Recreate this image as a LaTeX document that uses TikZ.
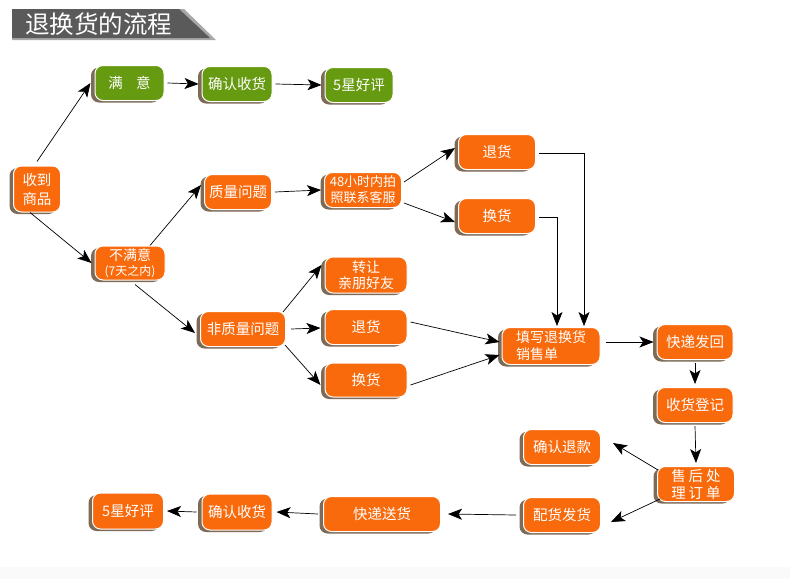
\documentclass[tikz,border=0pt]{standalone}
\usepackage{fontspec}
\newfontfamily\cjk{Noto Sans CJK SC}
\usetikzlibrary{arrows.meta,shadows}
\definecolor{ora}{HTML}{F86A0C}
\definecolor{grn}{HTML}{669A10}
\definecolor{shd}{HTML}{7D6B58}
\definecolor{tdark}{HTML}{5A5A5A}
\definecolor{tlight}{HTML}{A8A8A8}
\tikzset{
  box/.style={rounded corners=8pt, fill=ora, draw=white, line width=1pt, text=white,
    font=\cjk\fontsize{14.5}{19}\selectfont, inner sep=0pt, align=center,
    minimum height=35pt,
    general shadow={fill=shd, shadow xshift=-4pt, shadow yshift=-2pt}},
  gbox/.style={box, fill=grn},
  arr/.style={-{Stealth[length=14pt,width=11pt,inset=3.5pt]}, line width=0.7pt, black},
}
\begin{document}
\begin{tikzpicture}[x=1pt,y=-1pt]
\useasboundingbox (0,0) rectangle (790,579);
\fill[white] (0,0) rectangle (790,579);
\fill[gray!4] (0,567) rectangle (790,579);
% title
\fill[tlight] (12,9) -- (184,9) -- (216,40) -- (12,40) -- cycle;
\fill[tdark] (12,9) -- (179,9) -- (210,38) -- (12,38) -- cycle;
\node[anchor=west, text=white, font=\cjk\fontsize{24.5}{24.5}\selectfont, inner sep=0pt] (title) at (25,24) {退换货的流程};
% nodes
\node[box, minimum width=47pt, minimum height=46pt] (get) at (37,189) {收到\\商品};
\node[gbox, minimum width=69pt] (my) at (129.5,83) {满\hspace{0.9em}意};
\node[gbox, minimum width=70pt] (qs1) at (237,84) {确认收货};
\node[gbox, minimum width=68pt] (hp1) at (359,85) {5星好评};
\node[box, minimum width=70pt, minimum height=34pt, font=\cjk\fontsize{14}{15}\selectfont] (bmy) at (130,263) {不满意\\{\fontsize{12}{13}\selectfont (7天之内)}};
\node[box, minimum width=67pt] (zl) at (238,192) {质量问题};
\node[box, minimum width=77pt, font=\cjk\fontsize{13}{16}\selectfont] (h48) at (363,190) {48小时内拍\\照联系客服};
\node[box, minimum width=77pt] (th1) at (497,152) {退货};
\node[box, minimum width=77pt] (hh1) at (497,216) {换货};
\node[box, minimum width=85pt] (fzl) at (243,329) {非质量问题};
\node[box, minimum width=82pt, minimum height=36pt, font=\cjk\fontsize{14}{16}\selectfont] (zr) at (366,275) {转让\\亲朋好友};
\node[box, minimum width=82pt] (th2) at (366,327) {退货};
\node[box, minimum width=82pt, minimum height=34pt] (hh2) at (366,380) {换货};
\node[box, minimum width=98pt, minimum height=37pt, align=left, font=\cjk\fontsize{14}{17}\selectfont] (tx) at (551,346) {填写退换货\\销售单\phantom{退换}};
\node[box, minimum width=76pt] (kdfh) at (695,342) {快递发回};
\node[box, minimum width=76pt] (shdj) at (695,405) {收货登记};
\node[box, minimum width=77pt, font=\cjk\fontsize{14.5}{17}\selectfont] (sh) at (696,484) {售\hspace{3pt}后\hspace{3pt}处\\理\hspace{3pt}订\hspace{3pt}单};
\node[box, minimum width=77pt] (qrtk) at (562,447) {确认退款};
\node[box, minimum width=77pt] (phfh) at (562,515) {配货发货};
\node[box, minimum width=117pt] (kdsh) at (382,514) {快递送货};
\node[box, minimum width=70pt, minimum height=36pt] (qs2) at (237,512) {确认收货};
\node[box, minimum width=71pt, minimum height=36pt] (hp2) at (128,511) {5星好评};
% connectors
\draw[arr] ([yshift=4pt]get.north) -- ([xshift=-4pt]my.west);
\draw[arr] ([xshift=-7pt]get.south) -- ([xshift=-3pt]bmy.west);
\draw[arr] ([xshift=3pt]my.east) -- ([xshift=-3pt]qs1.west);
\draw[arr] ([xshift=3pt]qs1.east) -- ([xshift=-3pt]hp1.west);
\draw[arr] ([xshift=20pt]bmy.north) -- ([xshift=-3pt,yshift=7pt]zl.west);
\draw[arr] ([xshift=5pt,yshift=-4pt]bmy.south) -- ([xshift=-5pt,yshift=-4pt]fzl.west);
\draw[arr] ([xshift=3pt]zl.east) -- ([xshift=-3pt]h48.west);
\draw[arr] ([xshift=2pt,yshift=8pt]h48.east) -- ([xshift=-3pt,yshift=4pt]th1.west);
\draw[arr] ([xshift=2pt,yshift=-13pt]h48.east) -- ([xshift=-3pt,yshift=-6pt]hh1.west);
\draw[arr] ([xshift=3pt,yshift=-1pt]th1.east) -| ([xshift=33pt,yshift=1pt]tx.north);
\draw[arr] ([xshift=3pt,yshift=-1pt]hh1.east) -| ([xshift=6pt,yshift=1pt]tx.north);
\draw[arr] ([xshift=-3pt,yshift=-1pt]fzl.north east) -- ([xshift=-3pt,yshift=10pt]zr.west);
\draw[arr] ([xshift=5pt]fzl.east) -- ([xshift=-4pt,yshift=-1pt]th2.west);
\draw[arr] ([xshift=-1pt,yshift=2pt]fzl.south east) -- ([xshift=-4pt,yshift=-5pt]hh2.west);
\draw[arr] ([xshift=3pt,yshift=5pt]th2.east) -- ([xshift=-2pt,yshift=4pt]tx.west);
\draw[arr] ([xshift=3pt,yshift=-5pt]hh2.east) -- ([xshift=-2pt,yshift=-9pt]tx.west);
\draw[arr] ([xshift=5pt,yshift=4pt]tx.east) -- ([xshift=-3pt]kdfh.west);
\draw[arr] ([yshift=-3pt]kdfh.south) -- ([yshift=3pt]shdj.north);
\draw[arr] ([yshift=-3pt]shdj.south) -- ([yshift=3pt]sh.north);
\draw[arr] ([xshift=1pt,yshift=-4pt]sh.north west) -- ([xshift=12pt,yshift=4pt]qrtk.east);
\draw[arr] ([xshift=3pt,yshift=3pt]sh.south west) -- ([xshift=10pt,yshift=-7pt]phfh.east);
\draw[arr] ([xshift=-7pt]phfh.west) -- ([xshift=7pt]kdsh.east);
\draw[arr] ([xshift=-5pt]kdsh.west) -- ([xshift=4pt]qs2.east);
\draw[arr] ([xshift=-5pt]qs2.west) -- ([xshift=3pt]hp2.east);
\end{tikzpicture}
\end{document}
